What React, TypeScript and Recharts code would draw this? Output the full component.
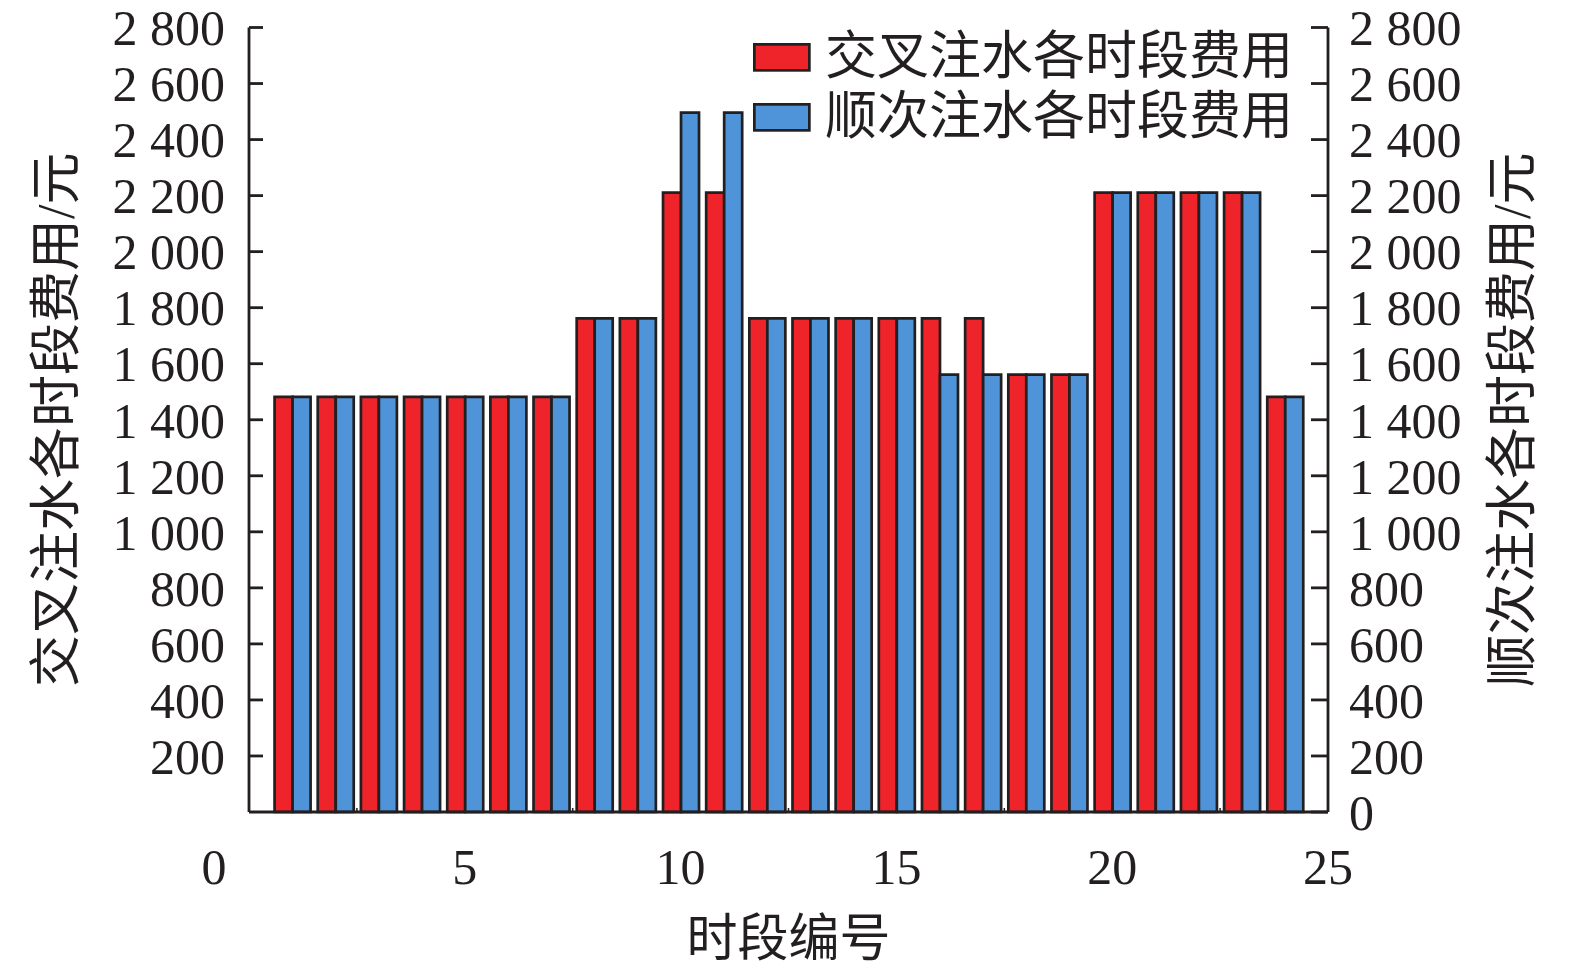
import React from 'react';
import { BarChart, Bar, XAxis, YAxis, Legend, Label } from 'recharts';

// 时段 1..24
const periods = [1, 2, 3, 4, 5, 6, 7, 8, 9, 10, 11, 12, 13, 14, 15, 16, 17, 18, 19, 20, 21, 22, 23, 24];
const crossCost = [
  1482, 1482, 1482, 1482, 1482, 1482, 1482, 1762, 1762, 2211, 2211, 1762,
  1762, 1762, 1762, 1762, 1762, 1561, 1561, 2211, 2211, 2211, 2211, 1482,
];
const seqCost = [
  1482, 1482, 1482, 1482, 1482, 1482, 1482, 1762, 1762, 2496, 2496, 1762,
  1762, 1762, 1762, 1561, 1561, 1561, 1561, 2211, 2211, 2211, 2211, 1482,
];
const xTicks = [0, 2.5, 5, 7.5, 10, 12.5, 15, 17.5, 20, 22.5, 25];
const leftTicks = [200, 400, 600, 800, 1000, 1200, 1400, 1600, 1800, 2000, 2200, 2400, 2600, 2800];
const rightTicks = [0, 200, 400, 600, 800, 1000, 1200, 1400, 1600, 1800, 2000, 2200, 2400, 2600, 2800];

const data = periods.map((p, i) => ({ period: p, cross: crossCost[i], seq: seqCost[i] }));

const INK = '#231F20';
const FONT = '"Liberation Serif", "Times New Roman", "Noto Sans CJK SC", serif';

const fmt = (v: number) =>
  v >= 1000 ? `${Math.floor(v / 1000)} ${String(v % 1000).padStart(3, '0')}` : String(v);

const XTick = (props: any) => {
  const { x, y, payload } = props;
  const v = payload.value;
  if (!Number.isInteger(v)) {
    return <line x1={x} x2={x} y1={y} y2={y - 4} stroke={INK} strokeWidth={1.5} />;
  }
  return (
    <text x={v === 0 ? x - 35 : x} y={y + 72} textAnchor="middle" fontSize={50} fontFamily={FONT} fill={INK}>
      {v}
    </text>
  );
};

const YTitle = (props: any) => {
  const { viewBox, value, dx } = props;
  const cx = viewBox.x + dx;
  const cy = viewBox.y + viewBox.height / 2;
  return (
    <text
      x={cx}
      y={cy}
      transform={`rotate(-90 ${cx} ${cy})`}
      textAnchor="middle"
      dominantBaseline="central"
      fontSize={52}
      fontFamily={FONT}
      fill={INK}
    >
      {value}
    </text>
  );
};

const XTitle = (props: any) => {
  const { viewBox, value } = props;
  return (
    <text
      x={viewBox.x + viewBox.width / 2}
      y={viewBox.y + 127}
      textAnchor="middle"
      dominantBaseline="central"
      fontSize={51}
      fontFamily={FONT}
      fill={INK}
    >
      {value}
    </text>
  );
};

const renderLegend = (props: any) => (
  <div style={{ display: 'flex', flexDirection: 'column' }}>
    {(props.payload || []).map((entry: any) => (
      <div key={entry.value} style={{ display: 'flex', alignItems: 'center', height: 60 }}>
        <svg width={58} height={29}>
          <rect x={1.35} y={1.35} width={55} height={26} fill={entry.color} stroke={INK} strokeWidth={2.7} />
        </svg>
        <span style={{ marginLeft: 14, fontSize: 52, fontFamily: FONT, color: INK, lineHeight: '60px', whiteSpace: 'nowrap' }}>
          {entry.value}
        </span>
      </div>
    ))}
  </div>
);

export default function App() {
  return (
    <div style={{ position: 'absolute', left: 0, top: 0, background: '#fff' }}>
      <BarChart
        width={1575}
        height={974}
        data={data}
        margin={{ top: 27.5, right: 0, bottom: 0, left: 0 }}
        barGap={0}
      >
        <XAxis
          dataKey="period"
          type="number"
          domain={[0, 25]}
          ticks={xTicks}
          interval={0}
          allowDecimals
          height={162}
          tick={<XTick />}
          tickLine={false}
          tickSize={0}
          tickMargin={0}
          axisLine={{ stroke: INK, strokeWidth: 2.8 }}
        >
          <Label value="时段编号" content={<XTitle />} />
        </XAxis>
        <YAxis
          yAxisId="left"
          type="number"
          domain={[0, 2800]}
          ticks={leftTicks}
          interval={0}
          width={249}
          tickFormatter={fmt}
          tickSize={-14}
          tickMargin={38}
          tick={{ fill: INK, fontSize: 50, fontFamily: FONT }}
          tickLine={{ stroke: INK, strokeWidth: 2.8 }}
          axisLine={{ stroke: INK, strokeWidth: 2.8 }}
        >
          <Label value="交叉注水各时段费用/元" content={<YTitle dx={56} />} />
        </YAxis>
        <YAxis
          yAxisId="right"
          orientation="right"
          type="number"
          domain={[0, 2800]}
          ticks={rightTicks}
          interval={0}
          width={247}
          tickFormatter={fmt}
          tickSize={-17}
          tickMargin={38}
          tick={{ fill: INK, fontSize: 50, fontFamily: FONT, textAnchor: 'start' }}
          tickLine={{ stroke: INK, strokeWidth: 2.8 }}
          axisLine={{ stroke: INK, strokeWidth: 2.8 }}
        >
          <Label value="顺次注水各时段费用/元" content={<YTitle dx={184} />} />
        </YAxis>
        <Legend
          layout="vertical"
          align="center"
          verticalAlign="middle"
          content={renderLegend}
          wrapperStyle={{ position: 'absolute', left: 753, top: 27, width: 'auto', height: 'auto' }}
        />
        <Bar
          yAxisId="left"
          dataKey="cross"
          name="交叉注水各时段费用"
          fill="#EE242A"
          stroke={INK}
          strokeWidth={2.7}
          barSize={18}
          isAnimationActive={false}
        />
        <Bar
          yAxisId="right"
          dataKey="seq"
          name="顺次注水各时段费用"
          fill="#4F94D8"
          stroke={INK}
          strokeWidth={2.7}
          barSize={18}
          isAnimationActive={false}
        />
      </BarChart>
    </div>
  );
}
